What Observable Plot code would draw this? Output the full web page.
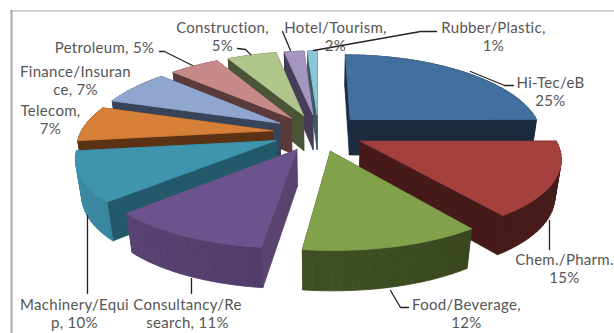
<!DOCTYPE html>
<html>
<head>
<meta charset="utf-8">
<script src="https://cdn.jsdelivr.net/npm/d3@7"></script>
<script src="https://cdn.jsdelivr.net/npm/@observablehq/plot@0.6"></script>
<style>
html,body{margin:0;padding:0;background:#fff}
#chart{position:absolute;left:0;top:0;width:614px;height:333px}
</style>
</head>
<body>
<div id="chart"></div>
<script>
// Sector shares, clockwise from twelve o'clock
const sectors = ["Hi-Tec/eB","Chem./Pharm.","Food/Beverage","Consultancy/Research","Machinery/Equip","Telecom","Finance/Insurance","Petroleum","Construction","Hotel/Tourism","Rubber/Plastic"];
const shares = [25,15,12,11,10,7,7,5,5,2,1];
const topColors = ["#41709f","#a4403e","#82a14b","#6d538d","#3f95ae","#d67f38","#8fa6cf","#c88a88","#b0c68c","#a596bf","#8ac6d8"];
const radialWalls = ["#1b2b40","#451a18","#3a461f","#5a4370","#235a6b","#5c3215","#38445a","#5a3a3a","#4a5538","#453d58","#3c5a66"];
const arcWallsLeft = ["#1b2b40","#451a18","#4a5a2a","#5d4578","#3a8aa2","#5c3215","#38445a","#5a3a3a","#4a5538","#453d58","#3c5a66"];
const arcWallsRight = ["#1b2b40","#451a18","#36431c","#42325a","#2d7088","#5c3215","#38445a","#5a3a3a","#4a5538","#453d58","#3c5a66"];
// Order the slices are painted in, rear ones first
const paintOrder = [10,9,8,7,6,5,0,4,1,3,2];

const labels = ["Hi-Tec/eB\n25%","Chem./Pharm.\n15%","Food/Beverage,\n12%","Consultancy/Re\nsearch, 11%","Machinery/Equi\np, 10%","Telecom,\n7%","Finance/Insuran\nce, 7%","Petroleum, 5%","Construction,\n5%","Hotel/Tourism,\n2%","Rubber/Plastic,\n1%"];
const labelX = [550,564,466,187,74,50,75,104,222,335,493];
const labelY = [82,259,304,304,304,110,71,47,27,27,27];
const leaders = [
  [[470,71],[504,85],[513,85]],
  [[549,220],[549,249]],
  [[390,290],[400,307],[408,307]],
  [[191,278],[191,293]],
  [[87,215],[87,293]],
  [[159,51],[164,51],[192,65]],
  [[237,48],[245,49],[250,54]],
  [[290,50],[282,31]],
  [[313,50],[420,31],[436,31]]
];

// Perspective view of the tilted pie
const view = {cx:318, cy:132, sx:192, sy:78, perspX:0.18, perspY:0.15, depth:36, recede:0.025, explode:0.24};
function project(X, Y, z) {
  const wx = 1 + view.perspX * Y + view.recede * (1 - z);
  const wy = 1 + view.perspY * Y;
  return [view.cx + view.sx * X / wx, view.cy - view.sy * Y / wy + view.depth * (1 - z) * (1 - 0.1 * Y)];
}

const polys = [];
let nextId = 0;
function addPoly(corners, color) {
  const id = nextId++;
  for (const [x, y] of [...corners, corners[0]]) polys.push({id, x, y, color});
}

const total = d3.sum(shares);
let run = 0;
const slices = shares.map((v, i) => {
  const a0 = run / total * 2 * Math.PI;
  run += v;
  return {i, a0, a1: run / total * 2 * Math.PI};
});

for (const n of paintOrder) {
  const {i, a0, a1} = slices[n];
  const mid = (a0 + a1) / 2;
  const ox = view.explode * Math.sin(mid), oy = view.explode * Math.cos(mid);
  const rim = a => [ox + Math.sin(a), oy + Math.cos(a)];
  const steps = Math.max(3, Math.ceil((a1 - a0) / 0.04));
  const angles = d3.range(steps + 1).map(k => a0 + (a1 - a0) * k / steps);
  const apex = [ox, oy];
  // Radial walls, then the curved outer wall in shaded strips, then the top face
  for (const a of [a0, a1]) {
    const r = rim(a);
    addPoly([project(...apex, 1), project(...r, 1), project(...r, 0), project(...apex, 0)], radialWalls[i]);
  }
  const shade = d3.interpolateRgb(arcWallsLeft[i], arcWallsRight[i]);
  for (let k = 0; k < steps; k++) {
    const p = rim(angles[k]), q = rim(angles[k + 1]);
    addPoly([project(...p, 1), project(...q, 1), project(...q, 0), project(...p, 0)], shade((Math.sin(angles[k]) + 1) / 2));
  }
  addPoly([project(...apex, 1), ...angles.map(a => project(...rim(a), 1))], topColors[i]);
}

const leaderPoints = leaders.flatMap((pts, id) => pts.map(([x, y]) => ({id, x, y})));
const labelRows = labels.map((text, i) => ({text, x: labelX[i], y: labelY[i]}));

const plot = Plot.plot({
  width: 614, height: 333,
  margin: 0,
  x: {domain: [0, 614], range: [0, 614], axis: null},
  y: {domain: [0, 333], range: [0, 333], axis: null},
  style: {background: "#fff", letterSpacing: "0.3px"},
  marks: [
    Plot.ruleX([11], {y1: 10, y2: 333, stroke: "#a9a9a9", strokeWidth: 2}),
    Plot.ruleY([10.5], {x1: 10, x2: 614, stroke: "#a9a9a9", strokeWidth: 1}),
    Plot.line(polys, {x: "x", y: "y", z: "id", fill: d => d.color, stroke: d => d.color, strokeWidth: 0.8, curve: "linear", strokeLinejoin: "round"}),
    Plot.line(leaderPoints, {x: "x", y: "y", z: "id", stroke: "#222", strokeWidth: 1.3}),
    Plot.text(labelRows, {x: "x", y: "y", dy: -7, text: "text", lineAnchor: "top", lineHeight: 1.2, fontSize: 15, fontFamily: "Lato", fill: "#555", textAnchor: "middle"})
  ]
});
document.getElementById("chart").append(plot);
</script>
</body>
</html>
